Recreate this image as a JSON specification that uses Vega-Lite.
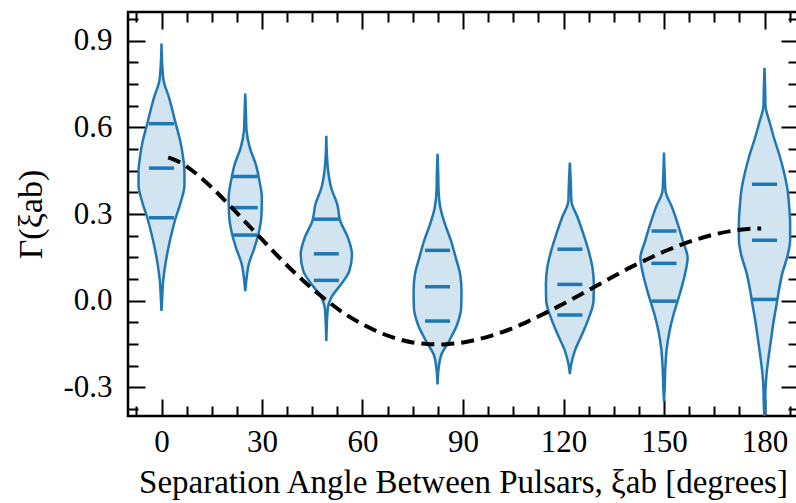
{
  "$schema": "https://vega.github.io/schema/vega-lite/v6.json",
  "width": 670,
  "height": 404,
  "autosize": "none",
  "padding": {"left": 128, "top": 12, "right": 0, "bottom": 87},
  "background": "white",
  "config": {
    "view": {"stroke": "black", "strokeWidth": 2.5},
    "axis": {
      "domain": false,
      "grid": false,
      "tickColor": "black",
      "tickWidth": 2,
      "labelFlush": false,
      "labelOverlap": false
    }
  },
  "datasets": {
    "violins": [
      {"v": 1, "g": 0.891, "lo": 0, "hi": 0},
      {"v": 1, "g": 0.82, "lo": -0.2, "hi": 0.2},
      {"v": 1, "g": 0.761, "lo": -0.65, "hi": 0.65},
      {"v": 1, "g": 0.703, "lo": -2.25, "hi": 2.25},
      {"v": 1, "g": 0.655, "lo": -3.35, "hi": 3.35},
      {"v": 1, "g": 0.613, "lo": -4.25, "hi": 4.25},
      {"v": 1, "g": 0.55, "lo": -5.65, "hi": 5.65},
      {"v": 1, "g": 0.495, "lo": -6.45, "hi": 6.45},
      {"v": 1, "g": 0.449, "lo": -6.85, "hi": 6.85},
      {"v": 1, "g": 0.40, "lo": -6.85, "hi": 6.85},
      {"v": 1, "g": 0.345, "lo": -5.85, "hi": 5.85},
      {"v": 1, "g": 0.287, "lo": -4.25, "hi": 4.25},
      {"v": 1, "g": 0.23, "lo": -2.95, "hi": 2.95},
      {"v": 1, "g": 0.183, "lo": -2.05, "hi": 2.05},
      {"v": 1, "g": 0.126, "lo": -1.15, "hi": 1.15},
      {"v": 1, "g": 0.068, "lo": -0.5, "hi": 0.5},
      {"v": 1, "g": 0.010, "lo": -0.2, "hi": 0.2},
      {"v": 1, "g": -0.036, "lo": 0, "hi": 0},

      {"v": 2, "g": 0.717, "lo": 25, "hi": 25},
      {"v": 2, "g": 0.65, "lo": 24.8, "hi": 25.2},
      {"v": 2, "g": 0.588, "lo": 24.6, "hi": 25.4},
      {"v": 2, "g": 0.53, "lo": 23.65, "hi": 26.35},
      {"v": 2, "g": 0.472, "lo": 21.85, "hi": 28.15},
      {"v": 2, "g": 0.414, "lo": 20.75, "hi": 29.25},
      {"v": 2, "g": 0.357, "lo": 20.05, "hi": 29.95},
      {"v": 2, "g": 0.299, "lo": 20.15, "hi": 29.85},
      {"v": 2, "g": 0.241, "lo": 20.85, "hi": 29.15},
      {"v": 2, "g": 0.183, "lo": 22.25, "hi": 27.75},
      {"v": 2, "g": 0.126, "lo": 23.95, "hi": 26.05},
      {"v": 2, "g": 0.068, "lo": 24.7, "hi": 25.3},
      {"v": 2, "g": 0.033, "lo": 25, "hi": 25},

      {"v": 3, "g": 0.571, "lo": 49.2, "hi": 49.2},
      {"v": 3, "g": 0.50, "lo": 49.0, "hi": 49.4},
      {"v": 3, "g": 0.449, "lo": 48.65, "hi": 49.75},
      {"v": 3, "g": 0.391, "lo": 47.75, "hi": 50.65},
      {"v": 3, "g": 0.334, "lo": 45.95, "hi": 52.45},
      {"v": 3, "g": 0.276, "lo": 45.05, "hi": 53.35},
      {"v": 3, "g": 0.218, "lo": 42.75, "hi": 55.65},
      {"v": 3, "g": 0.160, "lo": 41.55, "hi": 56.85},
      {"v": 3, "g": 0.102, "lo": 42.35, "hi": 56.05},
      {"v": 3, "g": 0.068, "lo": 44.05, "hi": 54.35},
      {"v": 3, "g": 0.010, "lo": 47.75, "hi": 50.65},
      {"v": 3, "g": -0.025, "lo": 48.75, "hi": 49.65},
      {"v": 3, "g": -0.071, "lo": 49.0, "hi": 49.4},
      {"v": 3, "g": -0.140, "lo": 49.2, "hi": 49.2},

      {"v": 4, "g": 0.509, "lo": 82.4, "hi": 82.4},
      {"v": 4, "g": 0.44, "lo": 82.2, "hi": 82.6},
      {"v": 4, "g": 0.380, "lo": 82.1, "hi": 82.7},
      {"v": 4, "g": 0.322, "lo": 81.55, "hi": 83.25},
      {"v": 4, "g": 0.264, "lo": 80.15, "hi": 84.65},
      {"v": 4, "g": 0.206, "lo": 78.35, "hi": 86.45},
      {"v": 4, "g": 0.148, "lo": 76.95, "hi": 87.85},
      {"v": 4, "g": 0.091, "lo": 75.65, "hi": 89.15},
      {"v": 4, "g": 0.033, "lo": 75.25, "hi": 89.55},
      {"v": 4, "g": -0.025, "lo": 75.35, "hi": 89.45},
      {"v": 4, "g": -0.083, "lo": 76.55, "hi": 88.25},
      {"v": 4, "g": -0.140, "lo": 78.95, "hi": 85.85},
      {"v": 4, "g": -0.187, "lo": 81.25, "hi": 83.55},
      {"v": 4, "g": -0.233, "lo": 82.05, "hi": 82.75},
      {"v": 4, "g": -0.291, "lo": 82.4, "hi": 82.4},

      {"v": 5, "g": 0.478, "lo": 121.9, "hi": 121.9},
      {"v": 5, "g": 0.403, "lo": 121.6, "hi": 122.2},
      {"v": 5, "g": 0.345, "lo": 121.45, "hi": 122.35},
      {"v": 5, "g": 0.287, "lo": 119.55, "hi": 124.25},
      {"v": 5, "g": 0.230, "lo": 117.85, "hi": 125.95},
      {"v": 5, "g": 0.178, "lo": 116.45, "hi": 127.35},
      {"v": 5, "g": 0.114, "lo": 115.15, "hi": 128.65},
      {"v": 5, "g": 0.056, "lo": 114.75, "hi": 129.05},
      {"v": 5, "g": -0.002, "lo": 114.85, "hi": 128.95},
      {"v": 5, "g": -0.060, "lo": 116.25, "hi": 127.55},
      {"v": 5, "g": -0.117, "lo": 118.25, "hi": 125.55},
      {"v": 5, "g": -0.175, "lo": 120.45, "hi": 123.35},
      {"v": 5, "g": -0.221, "lo": 121.5, "hi": 122.3},
      {"v": 5, "g": -0.255, "lo": 121.9, "hi": 121.9},

      {"v": 6, "g": 0.513, "lo": 150, "hi": 150},
      {"v": 6, "g": 0.438, "lo": 149.8, "hi": 150.2},
      {"v": 6, "g": 0.380, "lo": 149.55, "hi": 150.45},
      {"v": 6, "g": 0.322, "lo": 147.55, "hi": 152.45},
      {"v": 6, "g": 0.264, "lo": 145.85, "hi": 154.15},
      {"v": 6, "g": 0.206, "lo": 144.35, "hi": 155.65},
      {"v": 6, "g": 0.148, "lo": 142.95, "hi": 157.05},
      {"v": 6, "g": 0.091, "lo": 143.75, "hi": 156.25},
      {"v": 6, "g": 0.033, "lo": 145.05, "hi": 154.95},
      {"v": 6, "g": -0.002, "lo": 145.95, "hi": 154.05},
      {"v": 6, "g": -0.048, "lo": 147.15, "hi": 152.85},
      {"v": 6, "g": -0.106, "lo": 148.35, "hi": 151.65},
      {"v": 6, "g": -0.164, "lo": 149.15, "hi": 150.85},
      {"v": 6, "g": -0.233, "lo": 149.6, "hi": 150.4},
      {"v": 6, "g": -0.302, "lo": 149.8, "hi": 150.2},
      {"v": 6, "g": -0.350, "lo": 150, "hi": 150},

      {"v": 7, "g": 0.807, "lo": 180, "hi": 180},
      {"v": 7, "g": 0.733, "lo": 179.8, "hi": 180.2},
      {"v": 7, "g": 0.675, "lo": 179.7, "hi": 180.3},
      {"v": 7, "g": 0.617, "lo": 178.45, "hi": 181.55},
      {"v": 7, "g": 0.559, "lo": 177.05, "hi": 182.95},
      {"v": 7, "g": 0.501, "lo": 175.45, "hi": 184.55},
      {"v": 7, "g": 0.443, "lo": 174.15, "hi": 185.85},
      {"v": 7, "g": 0.386, "lo": 173.15, "hi": 186.85},
      {"v": 7, "g": 0.328, "lo": 172.65, "hi": 187.35},
      {"v": 7, "g": 0.270, "lo": 172.35, "hi": 187.65},
      {"v": 7, "g": 0.212, "lo": 172.35, "hi": 187.65},
      {"v": 7, "g": 0.154, "lo": 173.15, "hi": 186.85},
      {"v": 7, "g": 0.096, "lo": 174.65, "hi": 185.35},
      {"v": 7, "g": 0.039, "lo": 175.65, "hi": 184.35},
      {"v": 7, "g": 0.004, "lo": 176.15, "hi": 183.85},
      {"v": 7, "g": -0.077, "lo": 177.35, "hi": 182.65},
      {"v": 7, "g": -0.135, "lo": 178.05, "hi": 181.95},
      {"v": 7, "g": -0.193, "lo": 178.75, "hi": 181.25},
      {"v": 7, "g": -0.250, "lo": 179.35, "hi": 180.65},
      {"v": 7, "g": -0.308, "lo": 179.7, "hi": 180.3},
      {"v": 7, "g": -0.366, "lo": 179.8, "hi": 180.2},
      {"v": 7, "g": -0.40, "lo": 180, "hi": 180}
    ],
    "quartiles": [
      {"v": 1, "c": 0, "q": 0.613}, {"v": 1, "c": 0, "q": 0.459}, {"v": 1, "c": 0, "q": 0.287},
      {"v": 2, "c": 25, "q": 0.430}, {"v": 2, "c": 25, "q": 0.322}, {"v": 2, "c": 25, "q": 0.227},
      {"v": 3, "c": 49.2, "q": 0.282}, {"v": 3, "c": 49.2, "q": 0.162}, {"v": 3, "c": 49.2, "q": 0.070},
      {"v": 4, "c": 82.4, "q": 0.174}, {"v": 4, "c": 82.4, "q": 0.048}, {"v": 4, "c": 82.4, "q": -0.071},
      {"v": 5, "c": 121.9, "q": 0.178}, {"v": 5, "c": 121.9, "q": 0.056}, {"v": 5, "c": 121.9, "q": -0.050},
      {"v": 6, "c": 150, "q": 0.241}, {"v": 6, "c": 150, "q": 0.129}, {"v": 6, "c": 150, "q": -0.002},
      {"v": 7, "c": 180, "q": 0.403}, {"v": 7, "c": 180, "q": 0.209}, {"v": 7, "c": 180, "q": 0.004}
    ],
    "hd": [
      {"xi": 2, "gamma": 0.496}, {"xi": 5, "gamma": 0.482}, {"xi": 10, "gamma": 0.443},
      {"xi": 15, "gamma": 0.392}, {"xi": 20, "gamma": 0.334}, {"xi": 25, "gamma": 0.273},
      {"xi": 30, "gamma": 0.212}, {"xi": 35, "gamma": 0.151}, {"xi": 40, "gamma": 0.094},
      {"xi": 45, "gamma": 0.041}, {"xi": 50, "gamma": -0.006}, {"xi": 55, "gamma": -0.048},
      {"xi": 60, "gamma": -0.082}, {"xi": 65, "gamma": -0.110}, {"xi": 70, "gamma": -0.131},
      {"xi": 75, "gamma": -0.145}, {"xi": 80, "gamma": -0.151}, {"xi": 82.5, "gamma": -0.152},
      {"xi": 85, "gamma": -0.151}, {"xi": 90, "gamma": -0.145}, {"xi": 95, "gamma": -0.133},
      {"xi": 100, "gamma": -0.116}, {"xi": 105, "gamma": -0.095}, {"xi": 110, "gamma": -0.069},
      {"xi": 115, "gamma": -0.041}, {"xi": 120, "gamma": -0.011}, {"xi": 125, "gamma": 0.020},
      {"xi": 130, "gamma": 0.052}, {"xi": 135, "gamma": 0.084}, {"xi": 140, "gamma": 0.115},
      {"xi": 145, "gamma": 0.143}, {"xi": 150, "gamma": 0.170}, {"xi": 155, "gamma": 0.193},
      {"xi": 160, "gamma": 0.213}, {"xi": 165, "gamma": 0.229}, {"xi": 170, "gamma": 0.241},
      {"xi": 175, "gamma": 0.248}, {"xi": 179, "gamma": 0.250}
    ]
  },
  "layer": [
    {
      "data": {"name": "violins"},
      "mark": {"type": "area", "orient": "horizontal", "interpolate": "monotone", "fill": "#d2e4f0", "fillOpacity": 1, "stroke": "#1f77b4", "strokeWidth": 2.5},
      "encoding": {
        "y": {"field": "g", "type": "quantitative", "scale": {"domain": [-0.4, 1.0], "nice": false, "zero": false},
          "axis": {
            "orient": "left",
            "values": [-0.375, -0.3, -0.225, -0.15, -0.075, 0, 0.075, 0.15, 0.225, 0.3, 0.375, 0.45, 0.525, 0.6, 0.675, 0.75, 0.825, 0.9, 0.975],
            "tickSize": {"condition": {"test": "round(datum.value*40) % 12 === 0", "value": -17}, "value": -10},
            "labelExpr": "round(datum.value*40) % 12 === 0 ? replace(format(datum.value, '.1f'), '\u2212', '-') : ''",
            "labelFont": "Liberation Serif",
            "labelFontSize": 31,
            "labelColor": "black",
            "labelPadding": 33,
            "title": "Γ(ξab)",
            "titleFont": "Liberation Serif",
            "titleFontSize": 34,
            "titleFontWeight": "normal",
            "titleColor": "black",
            "titlePadding": 14
          }},
        "x": {"field": "lo", "type": "quantitative", "scale": {"domain": [-10, 190], "nice": false, "zero": false},
          "axis": {
            "orient": "bottom",
            "values": [-7.5, 0, 7.5, 15, 22.5, 30, 37.5, 45, 52.5, 60, 67.5, 75, 82.5, 90, 97.5, 105, 112.5, 120, 127.5, 135, 142.5, 150, 157.5, 165, 172.5, 180, 187.5],
            "tickSize": {"condition": {"test": "round(datum.value*2) % 60 === 0", "value": -17}, "value": -10},
            "labelExpr": "round(datum.value*2) % 60 === 0 ? datum.label : ''",
            "labelFont": "Liberation Serif",
            "labelFontSize": 31,
            "labelColor": "black",
            "labelPadding": 28,
            "title": "Separation Angle Between Pulsars, ξab [degrees]",
            "titleFont": "Liberation Serif",
            "titleFontSize": 33,
            "titleFontWeight": "normal",
            "titleColor": "black",
            "titlePadding": 2
          }},
        "x2": {"field": "hi"},
        "detail": {"field": "v", "type": "nominal"}
      }
    },
    {
      "data": {"name": "quartiles"},
      "mark": {"type": "tick", "orient": "horizontal", "size": 25, "thickness": 3.5, "color": "#1f77b4", "opacity": 1},
      "encoding": {
        "x": {"field": "c", "type": "quantitative", "scale": {"domain": [-10, 190], "nice": false, "zero": false},
          "axis": {
            "orient": "top",
            "values": [-7.5, 0, 7.5, 15, 22.5, 30, 37.5, 45, 52.5, 60, 67.5, 75, 82.5, 90, 97.5, 105, 112.5, 120, 127.5, 135, 142.5, 150, 157.5, 165, 172.5, 180, 187.5],
            "tickSize": {"condition": {"test": "round(datum.value*2) % 60 === 0", "value": -17}, "value": -10},
            "labels": false,
            "title": null
          }},
        "y": {"field": "q", "type": "quantitative", "scale": {"domain": [-0.4, 1.0], "nice": false, "zero": false},
          "axis": {
            "orient": "right",
            "values": [-0.375, -0.3, -0.225, -0.15, -0.075, 0, 0.075, 0.15, 0.225, 0.3, 0.375, 0.45, 0.525, 0.6, 0.675, 0.75, 0.825, 0.9, 0.975],
            "tickSize": {"condition": {"test": "round(datum.value*40) % 12 === 0", "value": -17}, "value": -10},
            "labels": false,
            "title": null
          }}
      }
    },
    {
      "mark": {"type": "rule", "color": "black", "strokeWidth": 2},
      "encoding": {"y": {"datum": 0, "type": "quantitative", "axis": null}}
    },
    {
      "data": {"name": "hd"},
      "mark": {"type": "line", "color": "black", "strokeWidth": 4, "strokeDash": [13, 7], "interpolate": "monotone"},
      "encoding": {
        "x": {"field": "xi", "type": "quantitative", "axis": null},
        "y": {"field": "gamma", "type": "quantitative", "axis": null}
      }
    },
    {
      "mark": {"type": "text", "text": "γ varied", "font": "Liberation Serif", "fontSize": 31, "align": "right", "baseline": "middle", "color": "black"},
      "encoding": {
        "x": {"datum": 181.5, "type": "quantitative", "axis": null},
        "y": {"datum": 0.865, "type": "quantitative", "axis": null}
      }
    }
  ],
  "resolve": {"axis": {"x": "independent", "y": "independent"}}
}
